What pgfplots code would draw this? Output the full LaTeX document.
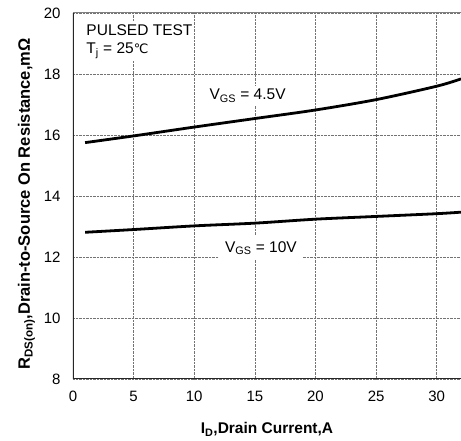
\documentclass[border=0pt]{standalone}
\usepackage{pgfplots}
\pgfplotsset{compat=1.18}
\usepackage{fontspec}
\setmainfont{Liberation Sans}
\newfontfamily\djv{DejaVu Sans}
\begin{document}
\begin{tikzpicture}
\begin{axis}[
  scale only axis,
  width=388pt, height=366pt,
  xmin=0, xmax=32, ymin=8, ymax=20,
  xtick={0,5,...,30}, ytick={8,10,...,20},
  grid=major,
  major grid style={densely dotted, black!55, line width=0.7pt},
  major tick length=0pt,
  axis line style={draw=none},
  /pgf/number format/assume math mode=true,
  tick label style={font=\fontsize{15}{17}\selectfont},
  xticklabel style={yshift=-8pt, text height=11pt},
  yticklabel style={xshift=-9pt},
  xlabel={\textbf{I\textsubscript{D},Drain Current,A}},
  ylabel={\textbf{R\textsubscript{DS(on)},Drain-to-Source On Resistance,mΩ}},
  xlabel style={font=\fontsize{15.5}{17}\selectfont, yshift=-14pt},
  ylabel style={font=\fontsize{16.5}{18}\selectfont, yshift=2pt, xshift=-8pt},
  clip=true,
]
\addplot[black, line width=2.8pt, smooth] coordinates {
 (1,15.75) (5,15.97) (10,16.26) (15,16.54) (20,16.82) (25,17.16) (30,17.6) (32,17.84)};
\addplot[black, line width=2.8pt, smooth] coordinates {
 (1,12.81) (5,12.9) (10,13.02) (15,13.11) (20,13.24) (25,13.33) (30,13.42) (32,13.47)};
\draw[black!85, line width=1.3pt] (rel axis cs:0,1) -- (rel axis cs:0,0) -- (rel axis cs:1,0);
\draw[black!50, line width=1pt] (rel axis cs:0,1) -- (rel axis cs:1,1);
\node[fill=white, inner sep=3pt, font=\fontsize{15.5}{17}\selectfont] at (axis cs:14.4,17.28) {V\textsubscript{GS} = 4.5V};
\node[fill=white, inner xsep=6pt, inner ysep=5pt, font=\fontsize{15.5}{17}\selectfont] at (axis cs:15.5,12.29) {V\textsubscript{GS} = 10V};
\node[anchor=north west, align=left, fill=white, inner sep=2pt, font=\fontsize{15.5}{18}\selectfont] at (axis cs:0.93,19.7) {PULSED TEST\\T\textsubscript{j} = 25{\djv\fontsize{13}{15}\selectfont ℃}};
\coordinate (bl) at (rel axis cs:0,0);
\coordinate (tr) at (rel axis cs:1,1);
\end{axis}
\pgfresetboundingbox
\path ([shift={(-73pt,-62pt)}]bl) rectangle ([shift={(0pt,13pt)}]tr);
\end{tikzpicture}
\end{document}
